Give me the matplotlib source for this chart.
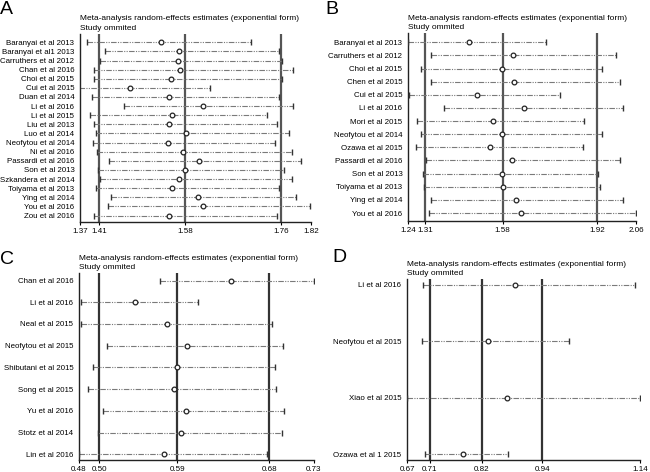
import matplotlib
matplotlib.use("Agg")
import matplotlib.pyplot as plt

plt.rcParams['font.family'] = ['Liberation Sans', 'DejaVu Sans']

# ---------------- data ----------------

studies_a = ['Baranyai et al 2013', 'Baranyai et al1 2013', 'Carruthers et al 2012', 'Chan et al 2016',
             'Choi et al 2015', 'Cui et al 2015', 'Duan et al 2014', 'Li et al 2016', 'Li et al 2015',
             'Liu et al 2013', 'Luo et al 2014', 'Neofytou et al 2014', 'Ni et al 2016', 'Passardi et al 2016',
             'Son et al 2013', 'Szkandera et al 2014', 'Toiyama et al 2013', 'Ying et al 2014',
             'You et al 2016', 'Zou et al 2016']
est_a = [1.528, 1.562, 1.560, 1.565, 1.547, 1.468, 1.543, 1.610, 1.549, 1.544,
         1.576, 1.542, 1.570, 1.601, 1.575, 1.562, 1.549, 1.600, 1.609, 1.543]
low_a = [1.384, 1.419, 1.409, 1.397, 1.398, 1.369, 1.393, 1.455, 1.390, 1.398,
         1.401, 1.395, 1.404, 1.426, 1.405, 1.409, 1.401, 1.430, 1.425, 1.397]
upp_a = [1.703, 1.758, 1.763, 1.785, 1.764, 1.624, 1.758, 1.784, 1.734, 1.754,
         1.777, 1.750, 1.783, 1.801, 1.768, 1.783, 1.758, 1.791, 1.819, 1.754]
overall_a = [1.407, 1.5745, 1.7616]
range_a = [1.37, 1.82]
ticklab_a = ['1.37', '1.41', '1.58', '1.76', '1.82']

studies_b = ['Baranyai et al 2013', 'Carruthers et al 2012', 'Choi et al 2015', 'Chen et al 2015',
             'Cui et al 2015', 'Li et al 2016', 'Mori et al 2015', 'Neofytou et al 2014', 'Ozawa et al 2015',
             'Passardi et al 2016', 'Son et al 2013', 'Toiyama et al 2013', 'Ying et al 2014', 'You et al 2016']
est_b = [1.460, 1.617, 1.578, 1.622, 1.489, 1.657, 1.544, 1.578, 1.536, 1.614, 1.578, 1.581, 1.630, 1.645]
low_b = [1.241, 1.321, 1.288, 1.321, 1.245, 1.368, 1.274, 1.288, 1.269, 1.306, 1.294, 1.298, 1.324, 1.314]
upp_b = [1.735, 1.987, 1.938, 2.003, 1.787, 2.013, 1.873, 1.938, 1.869, 2.003, 1.924, 1.930, 2.013, 2.059]
overall_b = [1.302, 1.580, 1.919]
range_b = [1.24, 2.06]
ticklab_b = ['1.24', '1.31', '1.58', '1.92', '2.06']

studies_c = ['Chan et al 2016', 'Li et al 2016', 'Neal et al 2015', 'Neofytou et al 2015',
             'Shibutani et al 2015', 'Song et al 2015', 'Yu et al 2016', 'Stotz et al 2014', 'Lin et al 2016']
est_c = [0.642, 0.540, 0.574, 0.595, 0.584, 0.581, 0.594, 0.589, 0.570]
low_c = [0.566, 0.482, 0.482, 0.510, 0.495, 0.490, 0.506, 0.500, 0.4802]
upp_c = [0.7298, 0.607, 0.685, 0.697, 0.688, 0.690, 0.698, 0.696, 0.680]
overall_c = [0.5016, 0.5845, 0.6822]
range_c = [0.48, 0.73]
ticklab_c = ['0.48', '0.50', '0.59', '0.68', '0.73']

studies_d = ['Li et al 2016', 'Neofytou et al 2015', 'Xiao et al 2015', 'Ozawa et al 1 2015']
est_d = [0.8875, 0.8325, 0.872, 0.783]
low_d = [0.7016, 0.6995, 0.6702, 0.707]
upp_d = [1.130, 0.996, 1.1398, 0.873]
overall_d = [0.7157, 0.8211, 0.9433]
range_d = [0.67, 1.14]
ticklab_d = ['0.67', '0.71', '0.82', '0.94', '1.14']

TITLE1 = 'Meta-analysis random-effects estimates (exponential form)'
TITLE2 = 'Study ommited'

W, H = 650, 472
fig = plt.figure(figsize=(W / 100, H / 100), dpi=100)


def px(x, y):
    return x / W, 1 - y / H


def panel(letter, letter_xy, box, rows, studies, est, low, upp, overall, xr, ticklab, vcol):
    x0, x1, ytop, ybot = box
    row1, rown = rows
    n = len(studies)
    ax = fig.add_axes([x0 / W, 1 - ybot / H, (x1 - x0) / W, (ybot - ytop) / H])
    s = (rown - row1) / (n - 1)
    ax.set_ylim((n - 1) + (ybot - rown) / s, -(row1 - ytop) / s)
    ax.set_xlim(xr)

    for v in overall:
        ax.axvline(v, color=vcol, lw=1.6, zorder=1)

    for i in range(n):
        ax.plot([low[i], upp[i]], [i, i], color='#7a7a7a', lw=0.8,
                dashes=(5, 1.2, 1, 1.2, 1, 1.2), zorder=2)
        ax.plot([low[i], upp[i]], [i, i], ls='none', marker='|', ms=5,
                mew=1.0, color='#333333', zorder=3)
        ax.plot(est[i], i, ls='none', marker='o', ms=3.4, mfc='white',
                mec='#222222', mew=0.9, zorder=4)

    ax.set_yticks(range(n))
    ax.set_yticklabels(studies, fontsize=5.7)
    ax.tick_params(axis='y', length=0, pad=4)
    ax.set_xticks([xr[0]] + overall + [xr[1]])
    ax.set_xticklabels(ticklab, fontsize=5.8)
    ax.tick_params(axis='x', length=2.5, width=0.8, pad=1.5)

    for sp in ['top', 'right']:
        ax.spines[sp].set_visible(False)
    for sp in ['left', 'bottom']:
        ax.spines[sp].set_linewidth(1.0)
        ax.spines[sp].set_color('#222222')

    fig.text(*px(x0, ytop - 15), TITLE1, fontsize=6.0, va='center', ha='left')
    fig.text(*px(x0, ytop - 5.5), TITLE2, fontsize=6.0, va='center', ha='left')
    fig.text(*px(*letter_xy), letter, fontsize=14, va='center', ha='left')


panel('A', (0, 9), (80, 311, 34, 222), (42.3, 215.5), studies_a, est_a, low_a, upp_a,
      overall_a, range_a, ticklab_a, '#555555')
panel('B', (325, 9), (408, 636, 33, 221), (42.3, 213), studies_b, est_b, low_b, upp_b,
      overall_b, range_b, ticklab_b, '#555555')
panel('C', (0, 259), (79, 314, 273, 460), (280.5, 454.3), studies_c, est_c, low_c, upp_c,
      overall_c, range_c, ticklab_c, '#333333')
panel('D', (332, 257), (407, 640, 279, 460), (284.7, 454.3), studies_d, est_d, low_d, upp_d,
      overall_d, range_d, ticklab_d, '#333333')

fig.savefig('out.png', dpi=100)
